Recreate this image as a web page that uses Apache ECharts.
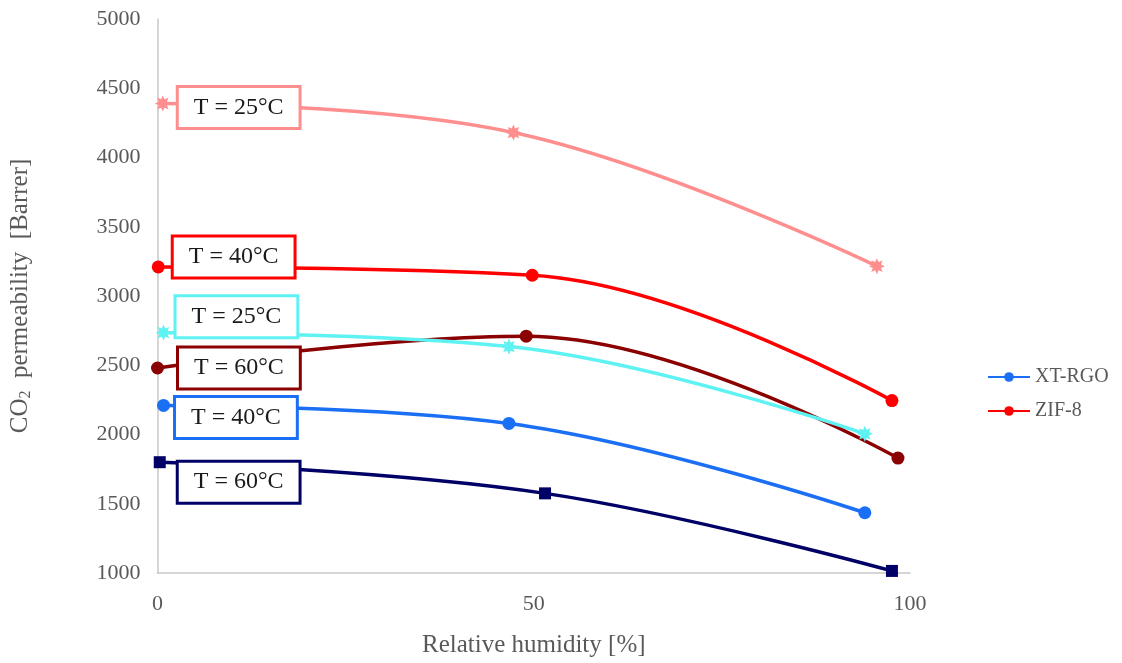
<!DOCTYPE html>
<html>
<head>
<meta charset="utf-8">
<script src="https://cdn.jsdelivr.net/npm/echarts@6/dist/echarts.min.js"></script>
<style>
    html, body { margin: 0; padding: 0; background: #fff; }
    #chart { width: 1122px; height: 663px; }
</style>
</head>
<body>
<div id="chart"></div>
<script>
// 读图得到的数据 [相对湿度 %, CO2 渗透率 Barrer]
var zif25 = [[0.7, 4390], [47.3, 4180], [95.6, 3215]];
var zif40 = [[0.1, 3210], [49.8, 3150], [97.6, 2245]];
var zif60 = [[0.0, 2480], [49.0, 2710], [98.4, 1830]];
var rgo25 = [[0.8, 2735], [46.7, 2635], [94.0, 2005]];
var rgo40 = [[0.8, 2210], [46.7, 2080], [94.0, 1435]];
var rgo60 = [[0.3, 1800], [51.5, 1575], [97.6, 1015]];

var xTicks = [0, 50, 100];
var yTicks = [1000, 5000, 500];   // min, max, interval
var legendNames = ['XT-RGO', 'ZIF-8'];

var serif = 'Liberation Serif';
var grey = '#595959';
var star = 'path://M50,0L60.7,24.1L85.4,14.6L75.9,39.3L100,50L75.9,60.7L85.4,85.4L60.7,75.9L50,100L39.3,75.9L14.6,85.4L24.1,60.7L0,50L24.1,39.3L14.6,14.6L39.3,24.1Z';

function makeSeries(name, data, color, symbol, text, offset) {
    return {
        name: name,
        type: 'line',
        smooth: 0.4,
        symbol: symbol,
        symbolSize: symbol === 'circle' ? 13 : (symbol === 'rect' ? 12 : 16),
        showAllSymbol: true,
        lineStyle: { color: color, width: 3.5 },
        itemStyle: { color: color },
        emphasis: { disabled: true },
        data: data.map(function(p, i) {
            if (i !== 0) return p;
            return {
                value: p,
                label: {
                    show: true,
                    position: 'right',
                    offset: offset,
                    formatter: text,
                    fontFamily: serif,
                    fontSize: 24,
                    color: '#1a1a1a',
                    backgroundColor: '#fff',
                    borderColor: color,
                    borderWidth: 3,
                    padding: [8, 15, 7, 15]
                }
            };
        })
    };
}

var chart = echarts.init(document.getElementById('chart'));
var option = {
    animation: false,
    grid: { left: 157, right: 212, top: 19, bottom: 88 },
    legend: {
        data: legendNames,
        orient: 'vertical',
        left: 982,
        top: 362,
        itemWidth: 42,
        itemHeight: 12,
        itemGap: 14,
        textStyle: { fontFamily: serif, fontSize: 20, color: grey }
    },
    xAxis: {
        type: 'value',
        min: xTicks[0],
        max: xTicks[xTicks.length - 1],
        interval: 50,
        name: 'Relative humidity [%]',
        nameLocation: 'middle',
        nameGap: 60,
        nameTextStyle: { fontFamily: serif, fontSize: 25, color: grey },
        axisLine: { lineStyle: { color: '#c8c8c8', width: 1.5 } },
        axisTick: { show: false },
        splitLine: { show: false },
        axisLabel: { fontFamily: serif, fontSize: 22, color: grey, margin: 20 }
    },
    yAxis: {
        type: 'value',
        min: yTicks[0],
        max: yTicks[1],
        interval: yTicks[2],
        name: 'CO{sub|2}  permeability  [Barrer]',
        nameLocation: 'middle',
        nameGap: 124,
        nameTextStyle: {
            fontFamily: serif, fontSize: 25, color: grey,
            rich: { sub: { fontFamily: serif, fontSize: 16, color: grey, verticalAlign: 'bottom', padding: [10, 0, 0, 0] } }
        },
        axisLine: { show: true, lineStyle: { color: '#c8c8c8', width: 1.5 } },
        axisTick: { show: false },
        splitLine: { show: false },
        axisLabel: {
            fontFamily: serif, fontSize: 22, color: grey, margin: 17,
            formatter: function(v) { return String(v); }
        }
    },
    series: [
        makeSeries('ZIF-8 25', zif25, '#ff8f8f', star, 'T = 25°C', [3, 4]),
        makeSeries('ZIF-8', zif40, '#ff0000', 'circle', 'T = 40°C', [4, -10]),
        makeSeries('ZIF-8 60', zif60, '#8b0000', 'circle', 'T = 60°C', [10, 0]),
        makeSeries('XT-RGO 25', rgo25, '#5ff2f2', star, 'T = 25°C', [0, -16]),
        makeSeries('XT-RGO', rgo40, '#1a6ff5', 'circle', 'T = 40°C', [1, 12]),
        makeSeries('XT-RGO 60', rgo60, '#000066', 'rect', 'T = 60°C', [8, 20])
    ]
};
chart.setOption(option);
</script>
</body>
</html>
